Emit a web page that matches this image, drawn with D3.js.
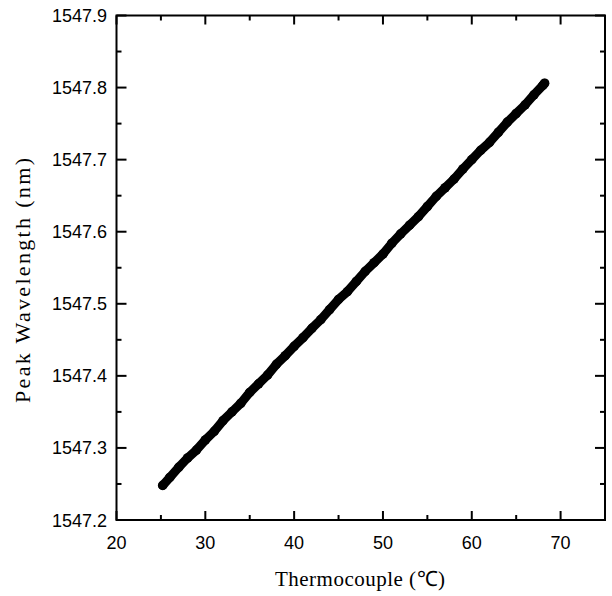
<!DOCTYPE html>
<html><head><meta charset="utf-8">
<script src="https://cdn.jsdelivr.net/npm/d3@7"></script>
<style>body{margin:0;background:#fff}svg{display:block}
.sans{font-family:"Liberation Sans", Arial, Helvetica, sans-serif;}
.serif{font-family:"Liberation Serif", "Times New Roman", Times, serif;}
</style>
</head><body>
<svg id="chart" width="612" height="596"></svg>
<script>
const temps = [25.2,26,27,28,29,30,31,32,33,34,35,36,37,38,39,40,41,42,43,44,45,46,47,48,49,50,51,52,53,54,55,56,57,58,59,60,61,62,63,64,65,66,67,68,68.2];
const wavelengths = [1547.248,1547.259,1547.273,1547.286,1547.297,1547.311,1547.323,1547.338,1547.350,1547.362,1547.377,1547.389,1547.401,1547.416,1547.428,1547.441,1547.453,1547.466,1547.478,1547.492,1547.506,1547.517,1547.531,1547.545,1547.557,1547.569,1547.584,1547.597,1547.609,1547.621,1547.635,1547.649,1547.661,1547.673,1547.687,1547.700,1547.713,1547.724,1547.738,1547.752,1547.764,1547.776,1547.790,1547.803,1547.806];
const xTicks = [20,30,40,50,60,70];
const yTicks = [1547.2,1547.3,1547.4,1547.5,1547.6,1547.7,1547.8,1547.9];
const xMinor = [25,35,45,55,65,75];
const yMinor = [1547.25,1547.35,1547.45,1547.55,1547.65,1547.75,1547.85];

const L=116.5, R=605, T=15.5, B=520;
const x = d3.scaleLinear().domain([20,75]).range([L,R]);
const y = d3.scaleLinear().domain([1547.2,1547.9]).range([B,T]);
const svg = d3.select("#chart");

const data = temps.map((t,i)=>[t,wavelengths[i]]);
svg.append("path").datum(data)
  .attr("d", d3.line().x(d=>x(d[0])).y(d=>y(d[1])))
  .attr("fill","none").attr("stroke","#000").attr("stroke-width",9)
  .attr("stroke-linecap","round").attr("stroke-linejoin","round");
svg.selectAll("circle.pt").data(data).enter().append("circle")
  .attr("cx",d=>x(d[0])).attr("cy",d=>y(d[1])).attr("r",4.8).attr("fill","#000");

// frame
svg.append("rect").attr("x",L).attr("y",T).attr("width",R-L).attr("height",B-T)
  .attr("fill","none").attr("stroke","#000").attr("stroke-width",2);

const g = svg.append("g").attr("stroke","#000").attr("stroke-width",2);
xTicks.forEach(v=>{
  g.append("line").attr("x1",x(v)).attr("x2",x(v)).attr("y1",B).attr("y2",B-9);
  g.append("line").attr("x1",x(v)).attr("x2",x(v)).attr("y1",T).attr("y2",T+9);
});
xMinor.forEach(v=>{
  g.append("line").attr("x1",x(v)).attr("x2",x(v)).attr("y1",B).attr("y2",B-5);
  g.append("line").attr("x1",x(v)).attr("x2",x(v)).attr("y1",T).attr("y2",T+5);
});
yTicks.forEach(v=>{
  g.append("line").attr("y1",y(v)).attr("y2",y(v)).attr("x1",L).attr("x2",L+10);
  g.append("line").attr("y1",y(v)).attr("y2",y(v)).attr("x1",R).attr("x2",R-10);
});
yMinor.forEach(v=>{
  g.append("line").attr("y1",y(v)).attr("y2",y(v)).attr("x1",L).attr("x2",L+5);
  g.append("line").attr("y1",y(v)).attr("y2",y(v)).attr("x1",R).attr("x2",R-5);
});

svg.selectAll("text.xt").data(xTicks).enter().append("text")
  .attr("class","sans")
  .attr("x",d=>x(d)).attr("y",549).attr("text-anchor","middle")
  .attr("font-size",18).text(d=>d);
svg.selectAll("text.yt").data(yTicks).enter().append("text")
  .attr("class","sans")
  .attr("x",107).attr("y",d=>y(d)+6.5).attr("text-anchor","end")
  .attr("font-size",18).text(d=>d.toFixed(1));

svg.append("text").attr("class","serif").attr("x",360).attr("y",586).attr("text-anchor","middle")
  .attr("font-size",21)
  .attr("textLength",170).attr("lengthAdjust","spacing")
  .text("Thermocouple (\u2103)");
svg.append("text").attr("class","serif").attr("transform","translate(30,280.5) rotate(-90)")
  .attr("text-anchor","middle").attr("font-size",22)
  .attr("textLength",245).attr("lengthAdjust","spacing")
  .text("Peak Wavelength (nm)");
</script>
</body></html>
